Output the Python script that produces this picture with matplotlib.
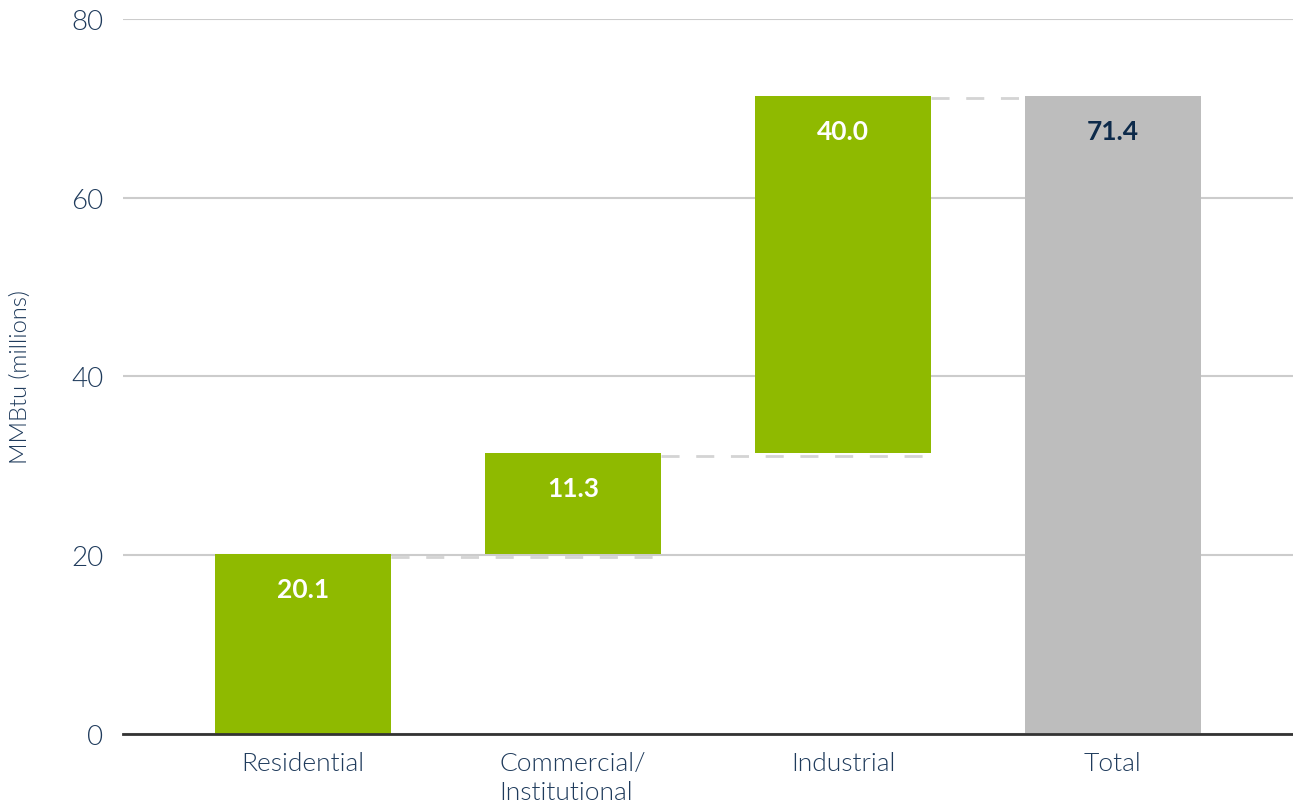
import numpy as np
import matplotlib
matplotlib.use("Agg")
import matplotlib.pyplot as plt

# dados do gráfico (waterfall)
categorias = ["Residential", "Commercial/\nInstitutional", "Industrial", "Total"]
valores = [20.1, 11.3, 40.0, 71.4]
rotulos = ["20.1", "11.3", "40.0", "71.4"]
yticks = [0, 20, 40, 60, 80]

verde = "#8fba00"
cinza = "#bdbdbd"
texto = "#1f3b5c"

plt.rcParams["font.family"] = ["Lato", "DejaVu Sans"]

fig = plt.figure(figsize=(12.93, 8.12), dpi=100)
ax = fig.add_axes([0.0951, 0.0948, 0.9049, 0.8806])

x = np.arange(len(categorias))
largura = 0.655

# bases acumuladas
bases = []
acum = 0
for v in valores[:-1]:
    bases.append(acum)
    acum += v
bases.append(0)
cores = [verde] * (len(valores) - 1) + [cinza]

ax.bar(x, valores, width=largura, bottom=bases, color=cores, zorder=3)

# linhas tracejadas de ligação
for i in range(len(valores) - 1):
    topo = bases[i] + valores[i]
    ax.plot([x[i] + largura / 2, x[i + 1] + largura / 2], [topo - 0.25, topo - 0.25],
            color="#d4d4d4", lw=2, ls=(0, (6.5, 6)), zorder=2)

# rótulos de valor
for i in range(len(valores)):
    topo = bases[i] + valores[i]
    cor = "white" if i < len(valores) - 1 else "#0d2a4a"
    ax.annotate(rotulos[i], (x[i], topo), xytext=(0, -35),
                textcoords="offset pixels", ha="center", va="center",
                fontsize=19, fontweight="bold", color=cor, zorder=4)

ax.set_xlim(-0.667, 3.667)
ax.set_ylim(0, 80)
ax.set_yticks(yticks)
ax.set_xticks(x)
ax.set_xticklabels(categorias, fontsize=19, color=texto, fontweight=300,
                   multialignment="left", linespacing=1.3)
for t in ax.get_yticklabels():
    t.set_fontweight(300)
ax.tick_params(axis="y", labelsize=20, labelcolor=texto, length=0, pad=14)
ax.tick_params(axis="x", length=0, pad=12)
ax.yaxis.grid(True, color="#cccccc", lw=1.5, zorder=0)
ax.set_axisbelow(True)
for s in ["top", "right", "left"]:
    ax.spines[s].set_visible(False)
ax.spines["bottom"].set_color("#333333")
ax.spines["bottom"].set_linewidth(2)
ax.spines["bottom"].set_zorder(5)

ax.set_ylabel("MMBtu (millions)", fontsize=17, color=texto, fontweight=300, labelpad=0)
ax.yaxis.set_label_coords(-0.0785, 0.5)

fig.savefig("out.png", dpi=100)
